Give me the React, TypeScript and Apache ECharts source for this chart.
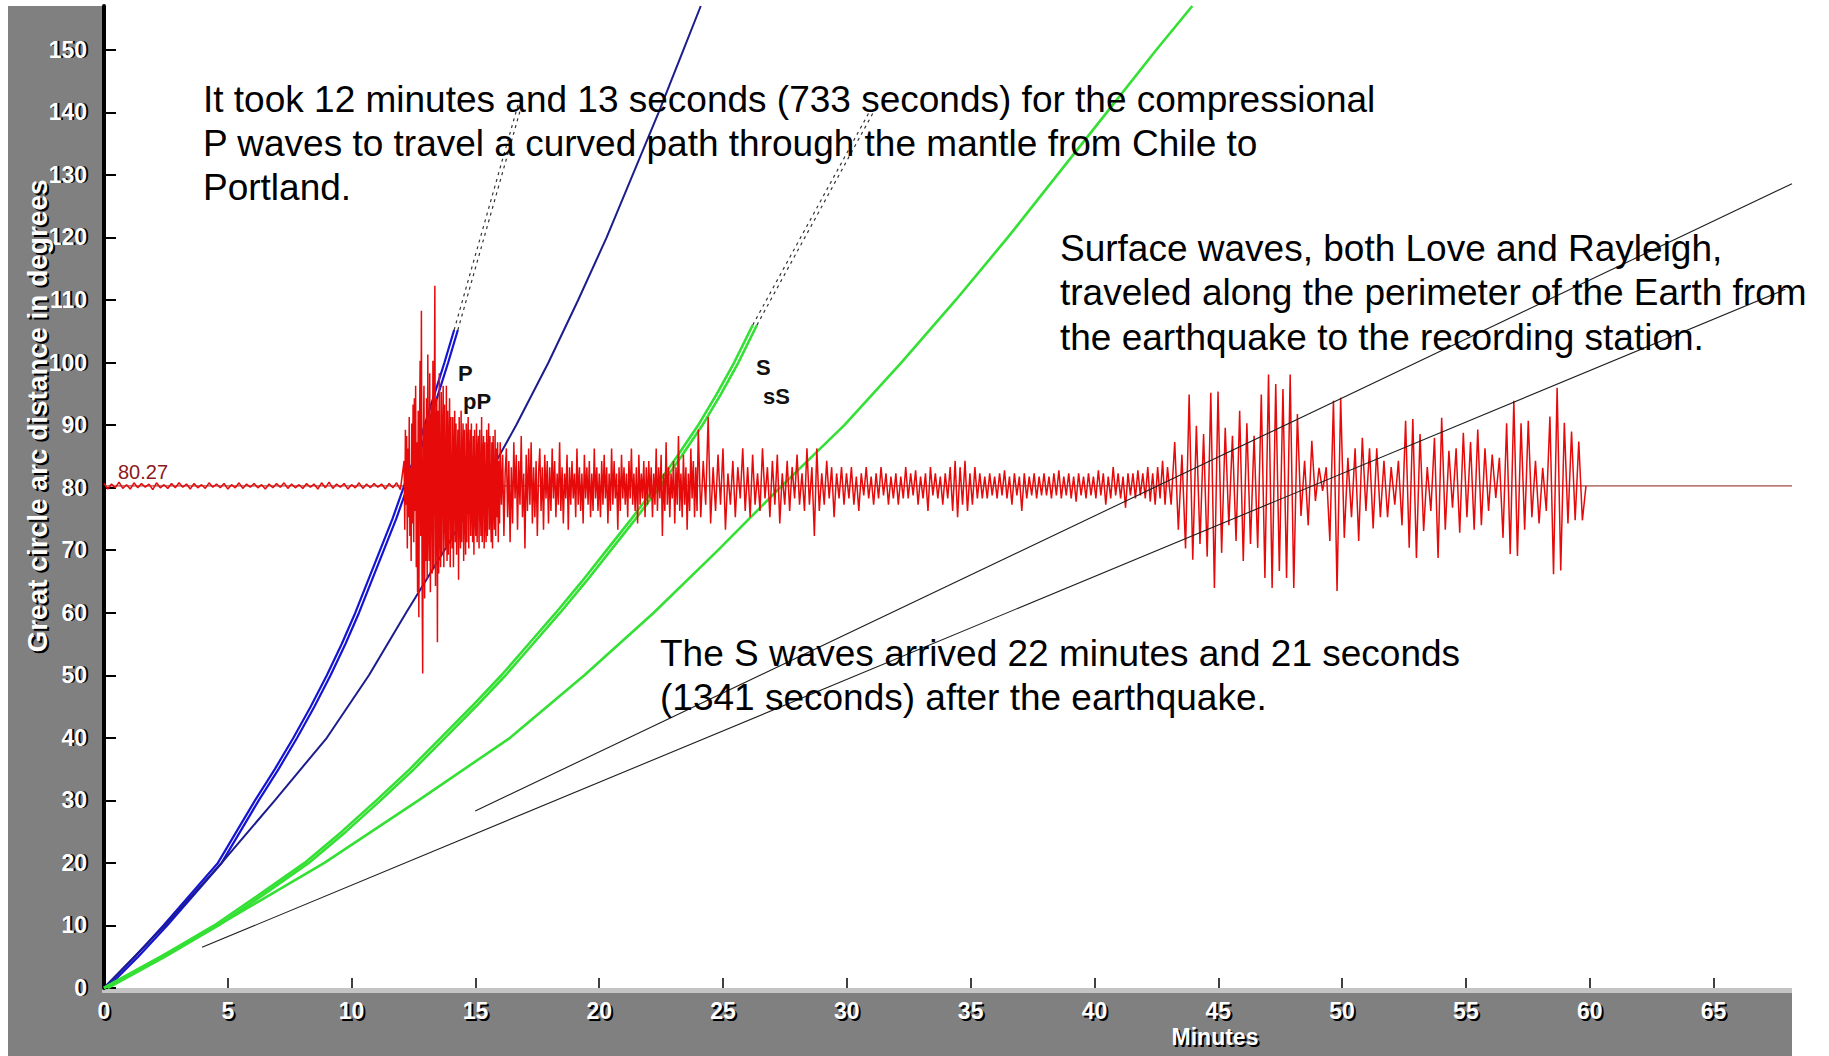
import React, { useEffect, useRef } from "react";
import * as echarts from "echarts";

// ---- axes ----
const X_TICKS = [0, 5, 10, 15, 20, 25, 30, 35, 40, 45, 50, 55, 60, 65];
const Y_TICKS = [0, 10, 20, 30, 40, 50, 60, 70, 80, 90, 100, 110, 120, 130, 140, 150];
const X_MAX = 68.17;
const Y_MAX = 157;

// ---- seismogram (deviation from baseline, degrees) ----
const BASELINE = 80.27;
const SEIS_QUIET = [
  0.4, -0.5, 0.3, -0.3, 0.6, -0.4, 0.2, -0.5, 0.5, -0.3,
  0.4, -0.2, 0.3, -0.6, 0.5, -0.3, 0.2, -0.4, 0.4, -0.3,
  0.5, -0.2, 0.3, -0.5, 0.4, -0.3, 0.2, -0.4, 0.5, -0.2,
  0.3, -0.3, 0.4, -0.5, 0.2, -0.3, 0.5, -0.4, 0.3, -0.2,
  0.4, -0.3, 0.2, -0.5, 0.3, -0.3, 0.4, -0.2, 0.5, -0.4,
  0.3, -0.3, 0.2, -0.4, 0.4, -0.2, 0.3, -0.5, 0.5, -0.3,
  0.6, -0.4, 0.3, -0.2, 0.4, -0.5, 0.2, -0.3, 0.5, -0.4,
  0.3, -0.3, 0.4, -0.2, 0.3, -0.5, 0.4, -0.3, 0.5, -0.6,
];
const SEIS_P_ARRIVAL = [
  4, -7, 9, -3, 8, -10, 6, -5, 11, -8, 3, -12, 10, -6, 13,
  -9, 14, -4, 16, -13, 7, -17, 12, -21, 9,
  20, -8, 28, -14, -30, 6, 16, -18, 10, -12,
  14, -15, 21, -6, -12, 18, -17, 8, 13, -14, 20, -13,
  9, 32, -16, 4, 14, -25, 12, -14,
  18, -7, -13, 15, -11, 6, 16, -13, 13, -4, -10, 16, -12, 12, -11, 5, 14, -13, 11,
  -6, -10, 11, -13, 4, 12, -9, 10, -11, 3, 9, -15, 11, -5, -10, 12, -9, 4, 10, -12, 9, -3, -11, 10, -9, 6, 11,
  -10, 4, 9, -8, 10, -3, -9, 8, -11, 9, -4, -8, 10, -9, 5, 8, -10, 9, -2, -8, 11, -9, 4, 8, -10,
  7, -5, -9, 9, -8, 3, 10, -7, 8, -4, -9, 7, -10, 8, -3, -7, 9, -8, 6, -5, 7, -9, 4, -6,
];
const SEIS_P_CODA = [
  7, -3, 5, -8, 2, 6, -5, 4, -9, 3, -6, 7, -2, 5, -7, 4, -3, 8, -5, 2,
  -10, 5, -4, 6, -3, 7, -6, 3, -5, 4, -8, 2, 6, -4, 3, -7, 5, -2, 4, -6,
  3, -4, 6, -2, 4, -5, 2, -3, 7, -4, 3, -6, 2, -2, 5, -7, 3, -3, 4, -2,
  2, -5, 6, -3, 3, -4, 2, -6, 5, -2, 3, -3, 4, -5, 2, -4, 6, -2, 3, -4,
  2, -5, 4, -3, 5, -2, 3, -6, 2, -4, 6, -3, 4, -2, 2, -7, 3, -4, 5, -2,
  3, -3, 2, -5, 4, -2, 6, -3, 2, -4, 3, -6, 5, -3, 2, -2, 4, -5, 3, -3,
  4, -2, 3, -5, 2, -3, 6, -4, 3, -2, 5, -8, 2, -4, 7, -3, 3, -5, 2, -2,
  4, -6, 3, -3, 8, -4, 2, -5, 5, -3, 3, -7, 2, -4, 6, -2, 4, -5, 3, -4,
];
const SEIS_S_CODA = [
  9, -5, 4, -3, 11, -6, 3, -4, 5, -3, 6, -7, 2, -3, 4, -5, 3, -2, 6, -4,
  3, -5, 5, -3, 2, -4, 6, -2, 3, -5, 4, -3, 5, -6, 2, -3, 4, -4, 3, -2,
  5, -3, 2, -4, 6, -3, 3, -8, 6, -4, 2, -3, 4, -2, 3, -5, 2, -2, 3, -3,
  2, -2, 3, -3, 1.5, -4, 2, -1.5, 3, -2, 1.5, -3, 2, -2, 3, -1.5, 2, -3, 1.5, -2,
  2, -3, 1.5, -2, 3, -2, 2, -1.5, 2.5, -3, 1.5, -2, 2, -4, 3, -1.5, 2, -2, 1.5, -3,
  2, -2, 3, -4, 4, -5, 3, -3, 4, -4, 2, -3, 3, -2, 2, -2, 1.5, -2, 2, -1.5,
  1.5, -2, 2, -1.5, 2.5, -2, 1.5, -3, 2, -1.5, 1.5, -4, 2, -2, 1.5, -1.5, 2, -2, 1.5, -1.5,
  2, -1.5, 1.5, -2, 2, -1.5, 2.5, -2, 1.5, -1.5, 2, -2, 1.5, -2.5, 2, -1.5, 1.5, -2, 2, -1.5,
  1.5, -2, 2.5, -1.5, 2, -3, 1.5, -2, 3, -1.5, 2, -2, 1.5, -3.5, 2, -1.5, 2, -2, 2.5, -1.5,
  2, -2, 3, -2.5, 2, -3, 3, -2, 4, -3,
];
const SEIS_SURFACE = [
  3, -3, 7, -7, 5, -10, 14.6, -11.8, 9.6, -9.3, 8.3, -11.3,
  14.9, -16.3, 15.1, -10.7, 9.3, -6.3, 8, -8.8, 12, -12,
  10, -9.3, 8, -9.9, 14.6, -14.7, 17.8, -16.3, 16.3, -13.6,
  15.5, -14.7, 17.8, -16.3, 11.5, -4.8, 4, -6.3, 7.2, -2.4,
  2.9, -0.8, 3, -8.8, 13.6, -16.8, 14.1, -8.3, 4.5, -5,
  6, -8.8, 7.7, -4, 6, -6.8, 6, -5,
  4, -5, 3, -3, 4, -6.3, 10.4, -9.9, 10.7, -11.5,
  8.3, -7.2, 3, -4, 7.7, -11.5, 10.9, -7, 5.6, -3.5,
  6, -7.5, 8.5, -5, 7, -7, 9, -6.3, 6, -4,
  5, -1.9, 4.5, -8.3, 10, -10.9, 13.6, -11.2, 10, -7,
  10.4, -5, 4, -6, 2.9, -4, 11.1, -14.1, 15.7, -13.5,
  10.1, -6, 8.7, -5.5, 7.1, -5.5,
];
const SEGMENTS = [
  { from: 0, to: 12.12, values: SEIS_QUIET },
  { from: 12.12, to: 16.0, values: SEIS_P_ARRIVAL },
  { from: 16.0, to: 24.0, values: SEIS_P_CODA },
  { from: 24.0, to: 42.95, values: SEIS_S_CODA },
  { from: 42.95, to: 59.85, values: SEIS_SURFACE },
];
const TRACE_END = 59.85;

// ---- travel-time curves [minutes, degrees] ----
const P_CURVE = [
  [0, 0], [1.25, 5], [2.4, 10], [3.5, 15], [4.6, 20], [5.35, 25], [6.1, 30], [6.9, 35], [7.65, 40],
  [8.35, 45], [9.0, 50], [9.6, 55], [10.15, 60], [10.65, 65], [11.15, 70], [11.65, 75], [12.12, 80.27],
  [12.55, 85], [12.95, 90], [13.35, 95], [13.75, 100], [14.14, 105.2],
];
const PP_DEPTH_CURVE = [
  [0.12, 0], [1.38, 5], [2.55, 10], [3.65, 15], [4.75, 20], [5.5, 25], [6.25, 30], [7.05, 35], [7.8, 40],
  [8.5, 45], [9.15, 50], [9.75, 55], [10.3, 60], [10.8, 65], [11.3, 70], [11.8, 75], [12.27, 80.27],
  [12.7, 85], [13.1, 90], [13.5, 95], [13.9, 100], [14.29, 105.2],
];
const PP_CURVE = [
  [0, 0], [2.45, 10], [4.75, 20], [6.9, 30], [9.0, 40], [10.7, 50], [12.2, 60], [13.75, 70], [15.25, 80],
  [16.65, 90], [17.95, 100], [19.15, 110], [20.3, 120], [21.35, 130], [22.4, 140], [23.4, 150], [24.1, 157],
];
const S_CURVE = [
  [0, 0], [2.3, 5], [4.45, 10], [6.3, 15], [8.1, 20], [9.6, 25], [11.0, 30], [12.35, 35], [13.6, 40],
  [14.85, 45], [16.05, 50], [17.15, 55], [18.25, 60], [19.3, 65], [20.3, 70], [21.3, 75], [22.3, 80.27],
  [23.15, 85], [24.0, 90], [24.75, 95], [25.45, 100], [26.2, 106],
];
const SS_DEPTH_CURVE = [
  [0.15, 0], [2.47, 5], [4.62, 10], [6.47, 15], [8.27, 20], [9.77, 25], [11.17, 30], [12.52, 35], [13.77, 40],
  [15.02, 45], [16.22, 50], [17.32, 55], [18.42, 60], [19.47, 65], [20.47, 70], [21.47, 75], [22.47, 80.27],
  [23.32, 85], [24.17, 90], [24.92, 95], [25.62, 100], [26.37, 106],
];
const SS_CURVE = [
  [0, 0], [4.6, 10], [8.9, 20], [12.7, 30], [16.4, 40], [19.4, 50], [22.2, 60], [24.8, 70], [27.3, 80],
  [29.9, 90], [32.2, 100], [34.4, 110], [36.5, 120], [38.5, 130], [40.5, 140], [42.5, 150], [43.95, 157],
];
const P_DIFF = [[14.14, 105.2], [16.75, 141.6]];
const PP_DIFF = [[14.29, 105.2], [16.9, 141.6]];
const S_DIFF = [[26.2, 106], [30.9, 140]];
const SS_DIFF = [[26.37, 106], [31.07, 140]];
const LOVE_LINE = [[14.99, 28.3], [68.17, 128.6]];
const RAYLEIGH_LINE = [[3.96, 6.5], [67.9, 111.7]];

const TEXT_FONT = '"Liberation Sans", Arial, sans-serif';
const NOTE_P = [
  "It took 12 minutes and 13 seconds (733 seconds) for the compressional",
  "P waves to travel a curved path through the mantle from Chile to",
  "Portland.",
];
const NOTE_SURFACE = [
  "Surface waves, both Love and Rayleigh,",
  "traveled along the perimeter of the Earth from",
  "the earthquake to the recording station.",
];
const NOTE_S = [
  "The S waves arrived 22 minutes and 21 seconds",
  "(1341 seconds) after the earthquake.",
];

function buildTrace() {
  const out: number[][] = [];
  SEGMENTS.forEach((seg) => {
    const n = seg.values.length;
    seg.values.forEach((v, i) => {
      out.push([seg.from + ((seg.to - seg.from) * i) / n, BASELINE + v]);
    });
  });
  out.push([TRACE_END, BASELINE]);
  return out;
}

function lineSeries(name: string, data: number[][], color: string, width: number, z: number, type: any = "solid") {
  return {
    name,
    type: "line",
    data,
    symbol: "none",
    silent: true,
    z,
    lineStyle: { color, width, type },
    emphasis: { disabled: true },
  };
}

function noteTexts(lines: string[], x: number, y0: number, dy: number) {
  return lines.map((t, i) => ({
    type: "text",
    x,
    y: y0 + i * dy,
    z: 10,
    silent: true,
    style: {
      text: t,
      fill: "#000",
      font: `37px ${TEXT_FONT}`,
      textAlign: "left",
      textVerticalAlign: "middle",
      align: "left",
      verticalAlign: "middle",
    },
  }));
}

function smallLabel(text: string, x: number, y: number) {
  return {
    type: "text",
    x,
    y,
    z: 10,
    silent: true,
    style: {
      text,
      fill: "#111",
      font: `bold 22px ${TEXT_FONT}`,
      textAlign: "left",
      textVerticalAlign: "middle",
      align: "left",
      verticalAlign: "middle",
    },
  };
}

// white label with a black drop shadow drawn as a second copy underneath
function shadowedText(text: string, x: number, y: number, font: string, rotation = 0) {
  const base = { type: "text", rotation, silent: true };
  const st = { text, font, textAlign: "center", textVerticalAlign: "middle", align: "center", verticalAlign: "middle" };
  return [
    { ...base, x: x + 2, y: y + 2, z: 9, style: { ...st, fill: "#000" } },
    { ...base, x, y, z: 10, style: { ...st, fill: "#fff" } },
  ];
}

const axisLabelBase = {
  fontFamily: TEXT_FONT,
  fontWeight: "bold",
  fontSize: 23,
};

export default function App() {
  const ref = useRef<HTMLDivElement>(null);
  useEffect(() => {
    if (!ref.current) return;
    const chart = echarts.init(ref.current, null, { renderer: "svg" });
    const xCommon = { type: "value", min: 0, max: X_MAX, interval: 5, position: "bottom", splitLine: { show: false } };
    const yCommon = { type: "value", min: 0, max: Y_MAX, interval: 10, position: "left", splitLine: { show: false } };
    const option: any = {
      animation: false,
      backgroundColor: "#fff",
      grid: { left: 104, top: 6, right: 37, bottom: 68, outerBoundsMode: "none", containLabel: false },
      xAxis: [
        {
          ...xCommon,
          z: 3,
          axisLine: { show: false },
          axisTick: { show: true, inside: true, length: 10, lineStyle: { color: "#000", width: 1.5 }, customValues: X_TICKS },
          axisLabel: { ...axisLabelBase, color: "#fff", margin: 11, customValues: X_TICKS, formatter: (v: number) => String(v) },
        },
        {
          ...xCommon,
          z: 1,
          axisLine: { show: false },
          axisTick: { show: false },
          axisLabel: {
            ...axisLabelBase,
            color: "#000",
            margin: 13,
            padding: [0, 0, 0, 4],
            customValues: X_TICKS,
            formatter: (v: number) => String(v),
          },
        },
      ],
      yAxis: [
        {
          ...yCommon,
          z: 3,
          axisLine: { show: true, onZero: false, lineStyle: { color: "#000", width: 4 } },
          axisTick: { show: true, inside: true, length: 12, lineStyle: { color: "#000", width: 2 }, customValues: Y_TICKS },
          axisLabel: { ...axisLabelBase, color: "#fff", margin: 17, customValues: Y_TICKS, formatter: (v: number) => String(v) },
        },
        {
          ...yCommon,
          z: 1,
          axisLine: { show: false, onZero: false },
          axisTick: { show: false },
          axisLabel: {
            ...axisLabelBase,
            color: "#000",
            margin: 15,
            padding: [4, 0, 0, 0],
            customValues: Y_TICKS,
            formatter: (v: number) => String(v),
          },
        },
      ],
      graphic: {
        elements: [
          { type: "rect", z: -10, silent: true, shape: { x: 8, y: 6, width: 95, height: 1050 }, style: { fill: "#808080" } },
          { type: "rect", z: -10, silent: true, shape: { x: 8, y: 990, width: 1784, height: 66 }, style: { fill: "#808080" } },
          { type: "rect", z: -9, silent: true, shape: { x: 102, y: 988, width: 1690, height: 5 }, style: { fill: "#c4c4c4" } },
          ...shadowedText("Great circle arc distance in degrees", 37, 416, `bold 28px ${TEXT_FONT}`, Math.PI / 2),
          ...shadowedText("Minutes", 1215, 1037, `bold 23px ${TEXT_FONT}`),
          {
            type: "text",
            x: 118,
            y: 472,
            z: 10,
            silent: true,
            style: {
              text: "80.27",
              fill: "#8b1a1a",
              font: `20px ${TEXT_FONT}`,
              textAlign: "left",
              textVerticalAlign: "middle",
              align: "left",
              verticalAlign: "middle",
            },
          },
          smallLabel("P", 458, 373),
          smallLabel("pP", 463, 401),
          smallLabel("S", 756, 367),
          smallLabel("sS", 763, 396),
          ...noteTexts(NOTE_P, 203, 99, 44.3),
          ...noteTexts(NOTE_SURFACE, 1060, 248.5, 44.3),
          ...noteTexts(NOTE_S, 660, 653, 44.5),
        ],
      },
      series: [
        lineSeries("baseline", [[0, BASELINE], [X_MAX, BASELINE]], "#8b1a1a", 1, 2),
        lineSeries("P", P_CURVE, "#1414d2", 2.2, 3),
        lineSeries("pP", PP_DEPTH_CURVE, "#1414d2", 2.2, 3),
        lineSeries("PP", PP_CURVE, "#1c1c8e", 2, 3),
        lineSeries("S", S_CURVE, "#33e033", 2.6, 3),
        lineSeries("sS", SS_DEPTH_CURVE, "#33e033", 2.6, 3),
        lineSeries("SS", SS_CURVE, "#33e033", 2.6, 3),
        lineSeries("Pdiff", P_DIFF, "#333", 1.2, 3, [3, 4]),
        lineSeries("pPdiff", PP_DIFF, "#333", 1.2, 3, [3, 4]),
        lineSeries("Sdiff", S_DIFF, "#333", 1.2, 3, [3, 4]),
        lineSeries("sSdiff", SS_DIFF, "#333", 1.2, 3, [3, 4]),
        lineSeries("seismogram", buildTrace(), "#e60a0a", 1.5, 4),
        lineSeries("Love", LOVE_LINE, "#1e1e1e", 1.1, 5),
        lineSeries("Rayleigh", RAYLEIGH_LINE, "#1e1e1e", 1.1, 5),
      ],
    };
    chart.setOption(option);
    return () => chart.dispose();
  }, []);
  return <div ref={ref} style={{ position: "absolute", left: 0, top: 0, width: 1829, height: 1056 }} />;
}
